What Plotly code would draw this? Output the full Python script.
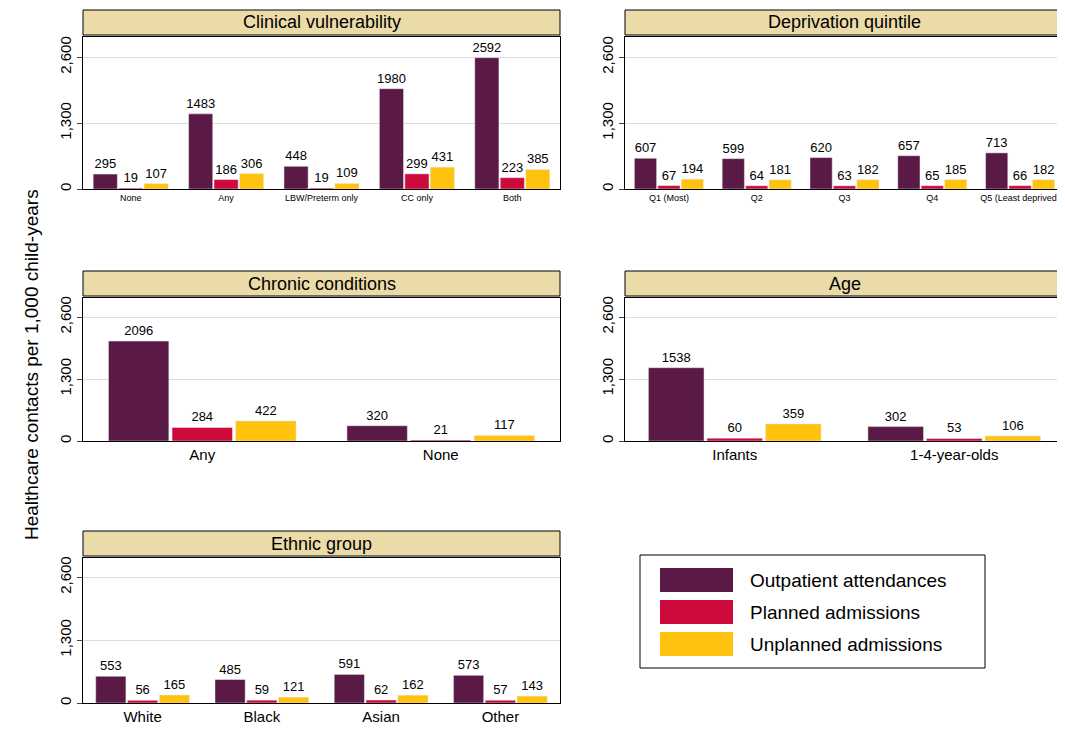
import plotly.graph_objects as go

SERIES = ["Outpatient attendances", "Planned admissions", "Unplanned admissions"]
COLORS = ["#5b1a45", "#cc0a3c", "#ffc20e"]

clin_cats = ["None", "Any", "LBW/Preterm only", "CC only", "Both"]
clin_vals = [[295, 1483, 448, 1980, 2592], [19, 186, 19, 299, 223], [107, 306, 109, 431, 385]]

dep_cats = ["Q1 (Most)", "Q2", "Q3", "Q4", "Q5 (Least deprived)"]
dep_vals = [[607, 599, 620, 657, 713], [67, 64, 63, 65, 66], [194, 181, 182, 185, 182]]

chron_cats = ["Any", "None"]
chron_vals = [[2096, 320], [284, 21], [422, 117]]

age_cats = ["Infants", "1-4-year-olds"]
age_vals = [[1538, 302], [60, 53], [359, 106]]

eth_cats = ["White", "Black", "Asian", "Other"]
eth_vals = [[553, 485, 591, 573], [56, 59, 62, 57], [165, 121, 162, 143]]

# page body has an 8px margin, so the figure is slightly smaller than the window
OFF = 8
W, H = 1065 - OFF, 730 - OFF


def fy(px):
    return 1 - (px - OFF) / H


def fx(px):
    return (px - OFF) / W


panels = [
    ("Clinical vulnerability", clin_cats, clin_vals, (83, 560), (37, 189), 9),
    ("Deprivation quintile", dep_cats, dep_vals, (625, 1064), (37, 189), 9),
    ("Chronic conditions", chron_cats, chron_vals, (83, 560), (298, 441), 15),
    ("Age", age_cats, age_vals, (625, 1064), (298, 441), 15),
    ("Ethnic group", eth_cats, eth_vals, (83, 560), (558, 703), 15),
]

fig = go.Figure()
shapes = []
annotations = []
layout = {}
for i, (title, cats, vals, (x0, x1), (y0, y1), tfs) in enumerate(panels):
    n = "" if i == 0 else str(i + 1)
    for s in range(3):
        fig.add_trace(go.Bar(
            x=cats, y=vals[s], name=SERIES[s], marker_color=COLORS[s],
            text=[str(v) for v in vals[s]], textposition="outside", cliponaxis=False,
            constraintext="none",
            textfont=dict(size=13, color="black"), offsetgroup=str(s),
            xaxis="x" + n, yaxis="y" + n, showlegend=False,
        ))
    layout["xaxis" + n] = dict(domain=[fx(x0), min(fx(x1), 1)], anchor="y" + n, showline=True,
                               linecolor="black", mirror=True, ticks="", automargin=False,
                               tickfont=dict(size=tfs, color="black"))
    layout["yaxis" + n] = dict(domain=[fy(y1), fy(y0)], anchor="x" + n, range=[0, 3000],
                               tickvals=[0, 1300, 2600], tickformat=",", tickangle=-90,
                               showline=True, linecolor="black", mirror=True, ticks="outside",
                               automargin=False, gridcolor="#dddddd",
                               tickfont=dict(size=15, color="black"))
    sy0, sy1 = y0 - 27, y0 - 2
    shapes.append(dict(type="rect", xref="paper", yref="paper", x0=fx(x0), x1=min(fx(x1), 1),
                       y0=fy(sy1), y1=fy(sy0), fillcolor="#eadba8", line=dict(color="black", width=1)))
    annotations.append(dict(text=title, xref="paper", yref="paper", x=fx((x0 + x1) / 2),
                            y=fy((sy0 + sy1) / 2), xanchor="center", yanchor="middle",
                            showarrow=False, font=dict(size=18, color="black")))

annotations.append(dict(text="Healthcare contacts per 1,000 child-years", xref="paper", yref="paper",
                        x=fx(31), y=fy(365), xanchor="center", yanchor="middle", textangle=-90,
                        showarrow=False, font=dict(size=19, color="black")))

# legend box drawn by hand for wide swatches
shapes.append(dict(type="rect", xref="paper", yref="paper", x0=fx(640), x1=fx(985),
                   y0=fy(668), y1=fy(555), line=dict(color="black", width=1), fillcolor="white"))
for s in range(3):
    cy = 580 + s * 32
    shapes.append(dict(type="rect", xref="paper", yref="paper", x0=fx(660), x1=fx(733),
                       y0=fy(cy + 12), y1=fy(cy - 12), fillcolor=COLORS[s], line=dict(width=0)))
    annotations.append(dict(text=SERIES[s], xref="paper", yref="paper", x=fx(748), y=fy(cy),
                            xanchor="left", yanchor="middle", showarrow=False,
                            font=dict(size=19, color="black")))

fig.update_layout(
    width=W, height=H, margin=dict(l=0, r=0, t=0, b=0, autoexpand=False),
    paper_bgcolor="white", plot_bgcolor="white",
    font=dict(family="Liberation Sans, Arial", color="black"),
    barmode="group", bargap=0.2, bargroupgap=0.05, showlegend=False,
    shapes=shapes, annotations=annotations,
    **layout,
)

fig.write_html("out.html")
